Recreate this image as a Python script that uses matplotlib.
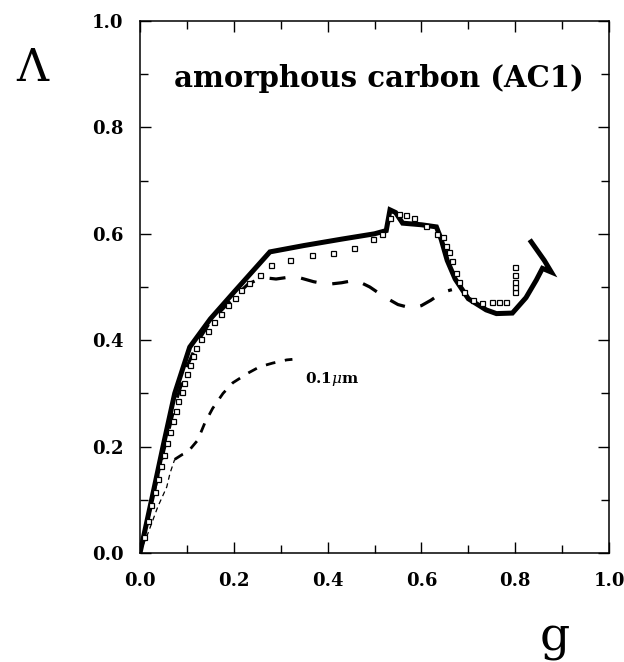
import matplotlib
matplotlib.use("Agg")
import matplotlib.pyplot as plt
from matplotlib.ticker import MultipleLocator

# ---- data ----
g_solid = [0, 0.026, 0.049, 0.074, 0.106, 0.15, 0.2, 0.277, 0.35, 0.43, 0.5, 0.525,
           0.533, 0.545, 0.56, 0.6, 0.632, 0.642, 0.655, 0.672, 0.70, 0.738, 0.76,
           0.794, 0.823, 0.845, 0.858, 0.877, 0.862, 0.834]
L_solid = [0, 0.105, 0.2, 0.3, 0.387, 0.44, 0.49, 0.566, 0.578, 0.59, 0.6, 0.606,
           0.645, 0.64, 0.62, 0.617, 0.613, 0.59, 0.55, 0.515, 0.478, 0.457, 0.45,
           0.451, 0.48, 0.513, 0.535, 0.528, 0.55, 0.585]

g_sq = [0.008, 0.016, 0.024, 0.031, 0.038, 0.045, 0.052, 0.058, 0.064, 0.07, 0.076,
        0.082, 0.089, 0.094, 0.100, 0.107, 0.114, 0.120, 0.131, 0.144, 0.158, 0.172,
        0.188, 0.203, 0.216, 0.232, 0.255, 0.28, 0.319, 0.366, 0.411,
        0.457, 0.497, 0.515, 0.533, 0.553, 0.567, 0.585, 0.61, 0.633, 0.645, 0.652,
        0.658, 0.665, 0.674, 0.68, 0.69, 0.71, 0.73, 0.75, 0.765, 0.78, 0.80, 0.80,
        0.80, 0.80, 0.80]
L_sq = [0.03, 0.06, 0.09, 0.115, 0.14, 0.163, 0.185, 0.207, 0.228, 0.248, 0.267,
        0.285, 0.303, 0.32, 0.337, 0.354, 0.37, 0.386, 0.402, 0.418, 0.434, 0.45,
        0.466, 0.48, 0.494, 0.508, 0.523, 0.541, 0.551, 0.56, 0.564,
        0.573, 0.59, 0.6, 0.63, 0.638, 0.635, 0.63, 0.615, 0.6, 0.594, 0.578,
        0.565, 0.548, 0.526, 0.51, 0.49, 0.475, 0.47, 0.472, 0.472, 0.472, 0.49,
        0.50, 0.51, 0.522, 0.538]

g_dash = [0, 0.026, 0.05, 0.075, 0.1, 0.125, 0.15, 0.2, 0.23, 0.26, 0.29, 0.33, 0.37,
          0.4, 0.43, 0.46, 0.49, 0.52, 0.55, 0.58, 0.6, 0.62, 0.645, 0.665]
L_dash = [0, 0.1, 0.19, 0.28, 0.35, 0.4, 0.435, 0.48, 0.505, 0.518, 0.515, 0.52, 0.51,
          0.505, 0.508, 0.513, 0.5, 0.482, 0.467, 0.46, 0.465, 0.475, 0.49, 0.495]

g_small = [0, 0.017, 0.038, 0.057, 0.064, 0.074, 0.09, 0.102, 0.123, 0.138, 0.155,
           0.177, 0.198, 0.23, 0.255, 0.283, 0.313, 0.325]
L_small = [0, 0.037, 0.087, 0.124, 0.15, 0.176, 0.185, 0.19, 0.212, 0.244, 0.272,
           0.30, 0.32, 0.338, 0.35, 0.357, 0.363, 0.364]

tick_vals = [0.0, 0.2, 0.4, 0.6, 0.8, 1.0]
tick_labels = ["0.0", "0.2", "0.4", "0.6", "0.8", "1.0"]
title_text = "amorphous carbon (AC1)"
size_label = "0.1$\\mu$m"

# ---- figure ----
plt.rcParams['font.family'] = ['DejaVu Serif']
plt.rcParams['mathtext.fontset'] = 'dejavuserif'
fig = plt.figure(figsize=(6.24, 6.62), dpi=100)
ax = fig.add_axes([140/624, 1 - 553/662, 469/624, 532/662])

ax.plot(g_small[:6], L_small[:6], color='black', lw=0.9, dashes=(4, 3))
ax.plot(g_small[5:], L_small[5:], color='black', lw=2.0, dashes=(3.5, 3.5))
ax.plot(g_dash, L_dash, color='black', lw=2.3, dashes=(5, 5))
ax.plot(g_solid, L_solid, color='black', lw=3.6, solid_joinstyle='miter')
ax.plot(g_sq, L_sq, linestyle='none', marker='s', ms=3.6, mfc='white',
        mec='black', mew=0.9)

ax.set_xlim(0, 1)
ax.set_ylim(0, 1)
ax.set_xticks(tick_vals)
ax.set_xticklabels(tick_labels, fontweight='bold', fontsize=13)
ax.set_yticks(tick_vals)
ax.set_yticklabels(tick_labels, fontweight='bold', fontsize=13)
ax.xaxis.set_minor_locator(MultipleLocator(0.1))
ax.yaxis.set_minor_locator(MultipleLocator(0.1))
ax.tick_params(which='both', direction='in', top=True, right=True, width=1.0)
ax.tick_params(which='major', length=8)
ax.tick_params(which='minor', length=6)
ax.tick_params(axis='x', pad=14)
ax.tick_params(axis='y', pad=12)
for s in ax.spines.values():
    s.set_linewidth(1.1)

ax.set_xlabel("g", fontsize=34, ha='center', va='center')
ax.xaxis.set_label_coords(0.885, -0.16)
ax.set_ylabel("\u039b", fontsize=32, rotation=0, ha='center', va='center')
ax.yaxis.set_label_coords(-0.23, 0.91)

ax.text(0.51, 0.876, title_text, ha='center', va='baseline', fontsize=21,
        fontweight='bold')
ax.text(0.351, 0.32, size_label, ha='left', va='baseline', fontsize=11,
        fontweight='bold')

fig.savefig("out.png", dpi=100)
